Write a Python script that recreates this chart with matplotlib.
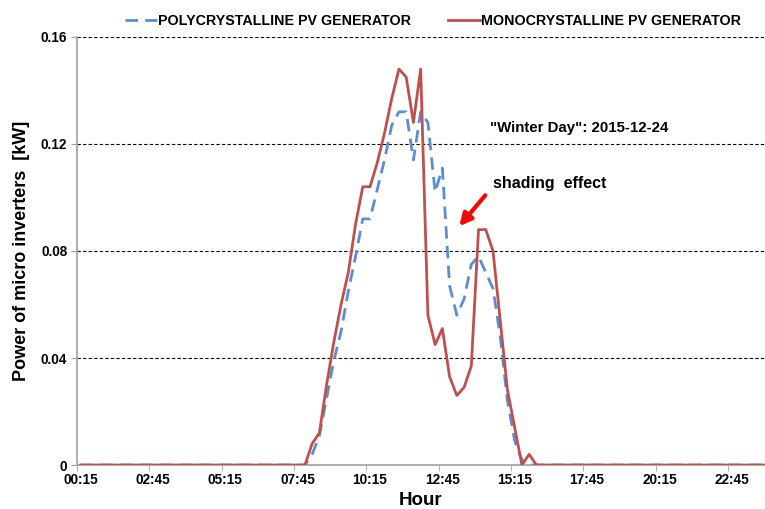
import numpy as np
import matplotlib.pyplot as plt

plt.rcParams['font.family'] = ['Liberation Sans', 'DejaVu Sans']

# 15-minute samples, 00:15 .. 24:00
hours = ['%02d:%02d' % divmod(15 * (k + 1), 60) for k in range(96)]
tick_labels = ['00:15', '02:45', '05:15', '07:45', '10:15',
               '12:45', '15:15', '17:45', '20:15', '22:45']

# daylight part of the series (from 08:00 onwards), rest of the day is zero
poly_day = [0.0, 0.004, 0.011, 0.025, 0.039, 0.050, 0.065, 0.078,
            0.092, 0.092, 0.103, 0.114, 0.127, 0.132, 0.132, 0.114,
            0.132, 0.128, 0.102, 0.111, 0.067, 0.056, 0.062, 0.075,
            0.078, 0.072, 0.066, 0.048, 0.024, 0.009, 0.002, 0.0]
mono_day = [0.0, 0.008, 0.012, 0.030, 0.046, 0.060, 0.072, 0.090,
            0.104, 0.104, 0.113, 0.124, 0.137, 0.148, 0.145, 0.128,
            0.148, 0.056, 0.045, 0.051, 0.033, 0.026, 0.029, 0.037,
            0.088, 0.088, 0.080, 0.054, 0.028, 0.014, 0.0, 0.004]

start = hours.index('08:00')
poly = np.zeros(len(hours))
mono = np.zeros(len(hours))
poly[start:start + len(poly_day)] = poly_day
mono[start:start + len(mono_day)] = mono_day

fig = plt.figure(figsize=(7.65, 5.09), dpi=100)
ax = fig.add_axes([0.1007, 0.0864, 0.8993, 0.841])

x = np.arange(len(hours))
ax.plot(x, poly, color='#5A8ED4', lw=2.0, ls=(0, (4.5, 2.6)),
        label='POLYCRYSTALLINE PV GENERATOR', zorder=3)
ax.plot(x, mono, color='#C0504D', lw=2.0,
        label='MONOCRYSTALLINE PV GENERATOR', zorder=4)

ax.set_xlim(-0.5, 94.6)
ax.set_ylim(0, 0.16)
ax.set_yticks([0, 0.04, 0.08, 0.12, 0.16])
ax.set_yticklabels(['0', '0.04', '0.08', '0.12', '0.16'])
for yv in [0.04, 0.08, 0.12, 0.16]:
    ax.axhline(yv, color='black', lw=0.8, ls=(0, (3, 2)), zorder=1)

pos = [hours.index(t) for t in tick_labels]
ax.set_xticks(pos)
ax.set_xticklabels(tick_labels)
ax.set_xticks([p - 0.5 for p in pos], minor=True)
ax.tick_params(axis='x', which='major', length=0, pad=6)
ax.tick_params(axis='x', which='minor', length=4, color='#A0A0A0')
ax.tick_params(axis='y', length=4, color='#A0A0A0', pad=3)
for lab in ax.get_xticklabels() + ax.get_yticklabels():
    lab.set_fontweight('bold')
    lab.set_fontsize(9.8)

for s in ['top', 'right']:
    ax.spines[s].set_visible(False)
for s in ['left', 'bottom']:
    ax.spines[s].set_color('#A0A0A0')
    ax.spines[s].set_linewidth(1.2)

ax.set_xlabel('Hour', fontsize=13.5, fontweight='bold', labelpad=3)
ax.set_ylabel('Power of micro inverters  [kW]', fontsize=13,
              fontweight='bold', labelpad=8)

ax.legend(loc='lower center', bbox_to_anchor=(0.518, 1.0), ncol=2,
          frameon=False, prop={'weight': 'bold', 'size': 10.3},
          handlelength=2.2, columnspacing=2.6, handletextpad=0.1,
          borderaxespad=0.2)

ax.text(0.600, 0.788, '"Winter Day": 2015-12-24', transform=ax.transAxes,
        fontsize=10.8, fontweight='bold', va='center')
ax.text(0.604, 0.657, 'shading  effect', transform=ax.transAxes,
        fontsize=11.5, fontweight='bold', va='center')
ax.annotate('', xy=(0.553, 0.553), xytext=(0.596, 0.635),
            xycoords='axes fraction',
            arrowprops=dict(arrowstyle='-|>', color='red', lw=3,
                            mutation_scale=18))

fig.savefig('out.png', dpi=100)
